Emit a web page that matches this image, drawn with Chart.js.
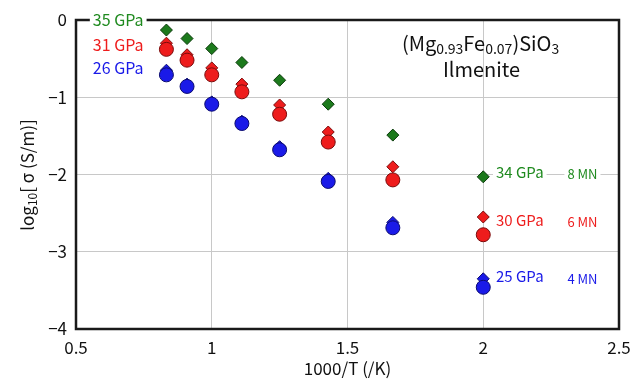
<!DOCTYPE html>
<html>
<head>
<meta charset="utf-8">
<script src="https://cdn.jsdelivr.net/npm/chart.js@4"></script>
<style>
  html, body { margin: 0; padding: 0; background: #fff; }
  #wrap { width: 643px; height: 383px; }
</style>
</head>
<body>
<div id="wrap"><canvas id="chart" width="643" height="383"></canvas></div>
<script>
// 1000/T values (T = 1200 ... 500 K)
const invT = [0.833, 0.909, 1.0, 1.111, 1.25, 1.429, 1.667, 2.0];

// log10 conductivity
const green35Diamond = [-0.13, -0.24, -0.37, -0.55, -0.78, -1.09, -1.49, -2.03];
const red31Diamond   = [-0.30, -0.45, -0.62, -0.83, -1.10, -1.45, -1.90, -2.55];
const red31Circle    = [-0.38, -0.52, -0.71, -0.93, -1.22, -1.58, -2.07, -2.78];
const blue26Diamond  = [-0.65, -0.83, -1.06, -1.31, -1.64, -2.05, -2.62, -3.35];
const blue26Circle   = [-0.71, -0.86, -1.09, -1.34, -1.68, -2.09, -2.69, -3.46];

const xTicks = [0.5, 1, 1.5, 2, 2.5];
const yTicks = [0, -1, -2, -3, -4];

const GREEN = "#1f8a1f";
const RED = "#ee1c1c";
const BLUE = "#1a1ae8";
const FONT = "'Noto Sans CJK JP', 'Noto Sans', sans-serif";

const pts = (ys) => ys.map((y, i) => ({ x: invT[i], y }));

// text labels placed in data coordinates: [text, x, y, color, size]
const pressureLabels = [
  ["35 GPa", 0.562, 0.0, GREEN, 16],
  ["31 GPa", 0.562, -0.32, RED, 16],
  ["26 GPa", 0.562, -0.62, BLUE, 16],
  ["34 GPa", 2.047, -1.97, GREEN, 15],
  ["8 MN", 2.31, -2.0, GREEN, 13],
  ["30 GPa", 2.047, -2.59, RED, 15],
  ["6 MN", 2.31, -2.61, RED, 13],
  ["25 GPa", 2.047, -3.32, BLUE, 15],
  ["4 MN", 2.31, -3.36, BLUE, 13],
];

// draw runs of [text, isSub] left to right, return width
function runs(ctx, parts, x, y, size, draw) {
  let w = 0;
  parts.forEach(([t, sub]) => {
    ctx.font = `${sub ? Math.round(size * 0.68) : size}px ${FONT}`;
    if (draw) ctx.fillText(t, x + w, sub ? y + size * 0.28 : y);
    w += ctx.measureText(t).width;
  });
  return w;
}

const decorPlugin = {
  id: "decor",
  beforeDatasetsDraw(chart) {
    const { ctx, chartArea: a } = chart;
    ctx.save();
    ctx.strokeStyle = "#1a1a1a";
    ctx.lineWidth = 2.5;
    ctx.strokeRect(a.left, a.top, a.right - a.left, a.bottom - a.top);
    ctx.restore();
  },
  afterDatasetsDraw(chart) {
    const { ctx, scales } = chart;
    const xs = scales.x, ys = scales.y;
    ctx.save();
    ctx.textBaseline = "middle";
    ctx.textAlign = "left";

    pressureLabels.forEach(([t, x, y, c, s]) => {
      ctx.font = `${s}px ${FONT}`;
      const px = xs.getPixelForValue(x), py = ys.getPixelForValue(y);
      const w = ctx.measureText(t).width;
      ctx.fillStyle = "#fff";
      ctx.fillRect(px - 3, py - s / 2 - 1, w + 6, s + 2);
      ctx.fillStyle = c;
      ctx.fillText(t, px, py);
    });

    // compound title
    ctx.fillStyle = "#111";
    const formula = [["(Mg", 0], ["0.93", 1], ["Fe", 0], ["0.07", 1], [")SiO", 0], ["3", 1]];
    const cx = xs.getPixelForValue(1.99);
    const fw = runs(ctx, formula, 0, 0, 20, false);
    runs(ctx, formula, cx - fw / 2, ys.getPixelForValue(-0.3), 20, true);
    ctx.font = `20px ${FONT}`;
    ctx.textAlign = "center";
    ctx.fillText("Ilmenite", cx + 1, ys.getPixelForValue(-0.645));

    // y axis title, rotated
    ctx.textAlign = "left";
    ctx.translate(28, 175);
    ctx.rotate(-Math.PI / 2);
    const ytitle = [["log", 0], ["10", 1], ["[ σ (S/m)]", 0]];
    const tw = runs(ctx, ytitle, 0, 0, 17, false);
    runs(ctx, ytitle, -tw / 2, 0, 17, true);
    ctx.restore();
  },
};

new Chart(document.getElementById("chart"), {
  type: "scatter",
  data: {
    datasets: [
      { data: pts(blue26Circle), pointStyle: "circle", pointRadius: 7, backgroundColor: BLUE, borderColor: "#0b0b70" },
      { data: pts(red31Circle), pointStyle: "circle", pointRadius: 7, backgroundColor: RED, borderColor: "#7a0a0a" },
      { data: pts(blue26Diamond), pointStyle: "rectRot", pointRadius: 6, backgroundColor: BLUE, borderColor: "#0b0b70" },
      { data: pts(red31Diamond), pointStyle: "rectRot", pointRadius: 6, backgroundColor: RED, borderColor: "#7a0a0a" },
      { data: pts(green35Diamond), pointStyle: "rectRot", pointRadius: 6, backgroundColor: "#1c7a1c", borderColor: "#0a3a0a" },
    ],
  },
  options: {
    responsive: false,
    animation: false,
    layout: { padding: { top: 20, right: 24, left: 0, bottom: 0 } },
    elements: { point: { borderWidth: 1, hoverRadius: 7 } },
    plugins: { legend: { display: false }, tooltip: { enabled: false } },
    scales: {
      x: {
        type: "linear",
        min: 0.5, max: 2.5,
        afterBuildTicks: (s) => { s.ticks = xTicks.map((v) => ({ value: v })); },
        afterFit: (s) => { s.height = 54; },
        grid: { color: "#c8c8c8", lineWidth: 1, drawTicks: false },
        border: { display: false },
        ticks: {
          color: "#111", font: { family: FONT, size: 17 }, padding: 8, maxRotation: 0,
          callback: (v) => String(v),
        },
        title: { display: true, text: "1000/T (/K)", color: "#111", font: { family: FONT, size: 17 }, padding: { top: 0 } },
      },
      y: {
        type: "linear",
        min: -4, max: 0,
        afterBuildTicks: (s) => { s.ticks = yTicks.map((v) => ({ value: v })); },
        afterFit: (s) => { s.width = 76; },
        grid: { color: "#c8c8c8", lineWidth: 1, drawTicks: false },
        border: { display: false },
        ticks: {
          color: "#111", font: { family: FONT, size: 17 }, padding: 9,
          callback: (v) => (v < 0 ? "\u2212" + Math.abs(v) : String(v)),
        },
      },
    },
  },
  plugins: [decorPlugin],
});
</script>
</body>
</html>
